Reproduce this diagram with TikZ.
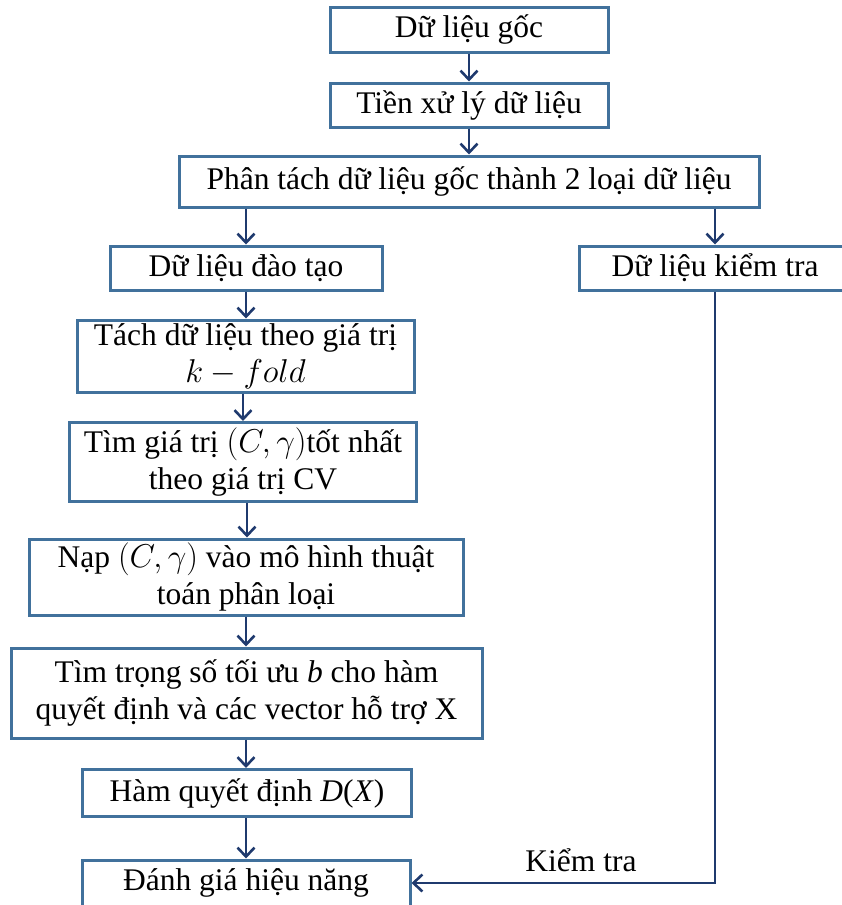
\RequirePackage{fix-cm}
\documentclass[tikz,border=0pt]{standalone}
\usepackage{fontspec}
\setmainfont{Liberation Serif}
\usetikzlibrary{arrows.meta}
\definecolor{boxline}{HTML}{41719C}
\definecolor{arrowc}{HTML}{1F3A6E}
\newcommand{\bigmath}[1]{{\fontsize{33}{37.5}\selectfont$#1$}}
\begin{document}
\begin{tikzpicture}[x=1pt,y=-1pt,
  txt/.style={font=\fontsize{31.5}{37.5}\selectfont,align=center},
  box/.style={txt,draw=boxline,line width=3pt,fill=white,rectangle,inner sep=0pt},
  conn/.style={draw=arrowc,line width=2.6pt,-{Straight Barb[length=9pt,width=17pt,line width=2.6pt]}}]
\useasboundingbox (0,0) rectangle (841,905);
\node[box,minimum width=278pt,minimum height=45pt] (b1) at (469,29.5) {Dữ liệu gốc};
\node[box,minimum width=278pt,minimum height=44pt] (b2) at (469,105) {Tiền xử lý dữ liệu};
\node[box,minimum width=580pt,minimum height=51pt] (b3) at (469,181.5) {Phân tách dữ liệu gốc thành 2 loại dữ liệu};
\node[box,minimum width=272pt,minimum height=44pt] (b4) at (246,268) {Dữ liệu đào tạo};
\node[box,minimum width=272pt,minimum height=44pt] (b5) at (715,268) {Dữ liệu kiểm tra};
\node[box,minimum width=337pt,minimum height=72pt] (b6) at (245.5,356) {Tách dữ liệu theo giá trị\\\bigmath{k-fold}};
\node[box,minimum width=347pt,minimum height=79pt] (b7) at (243,462) {Tìm giá trị \bigmath{(C,\gamma)}tốt nhất\\theo giá trị CV};
\node[box,minimum width=434pt,minimum height=76pt] (b8) at (246,577) {Nạp \bigmath{(C,\gamma)} vào mô hình thuật\\toán phân loại};
\node[box,minimum width=471pt,minimum height=90pt] (b9) at (246.5,693) {Tìm trọng số tối ưu \textit{b} cho hàm\\quyết định và các vector hỗ trợ X};
\node[box,minimum width=329pt,minimum height=47pt] (b10) at (247,793) {Hàm quyết định \textit{D}(\textit{X})};
\node[box,minimum width=328pt,minimum height=60pt] (b11) at (246,890) {};
\node[txt] (t11) at (246,883) {Đánh giá hiệu năng};
\coordinate (c1) at (715,883);
\node[txt] (lk) at (581,860) {Kiểm tra};
\draw[conn] (b1.south) -- (b2.north);
\draw[conn] (b2.south) -- (b2.south |- b3.north);
\draw[conn] (b3.south -| b4.north) -- (b4.north);
\draw[conn] (b3.south -| c1) -- (b5.north -| c1);
\draw[conn] (b4.south) -- (b4.south |- b6.north);
\draw[conn] (b6.south -| 243,0) -- (b7.north -| 243,0);
\draw[conn] (b7.south -| 247,0) -- (b8.north -| 247,0);
\draw[conn] (b8.south -| 246,0) -- (b9.north -| 246,0);
\draw[conn] (b9.south -| 246,0) -- (b10.north -| 246,0);
\draw[conn] (b10.south -| 246,0) -- (b11.north -| 246,0);
\draw[conn] (b5.south -| c1) -- (c1) -- (c1 -| b11.east);
\end{tikzpicture}
\end{document}
